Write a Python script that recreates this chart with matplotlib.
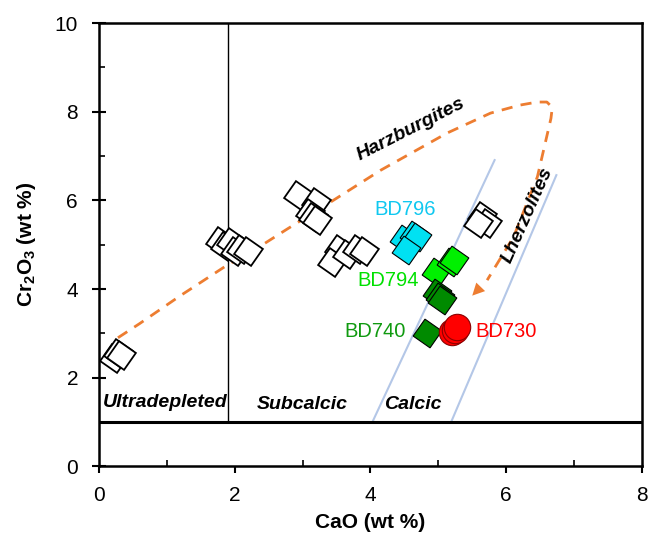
import numpy as np
import matplotlib
matplotlib.use("Agg")
import matplotlib.pyplot as plt

plt.rcParams['font.family'] = ['Liberation Sans', 'DejaVu Sans']
plt.rcParams['mathtext.fontset'] = 'custom'
plt.rcParams['mathtext.rm'] = 'Liberation Sans'
plt.rcParams['mathtext.bf'] = 'Liberation Sans:bold'

# white diamonds (literature data)
lit_cao = [0.22, 0.28, 0.33,
           1.78, 1.85, 1.95, 2.0, 2.1, 2.2,
           2.94, 3.2, 3.11, 3.16, 3.21,
           3.53, 3.43, 3.66, 3.8, 3.9,
           5.65, 5.72, 5.58]
lit_cr = [2.45, 2.55, 2.5,
          5.08, 4.98, 5.05, 4.85, 4.9, 4.85,
          6.12, 5.97, 5.71, 5.63, 5.55,
          4.91, 4.61, 4.8, 4.91, 4.85,
          5.65, 5.5, 5.48]

# samples
bd796_cao = [4.49, 4.64, 4.69, 4.52]
bd796_cr = [5.14, 5.21, 5.18, 4.88]
bd794_cao = [4.96, 5.18, 5.23]
bd794_cr = [4.39, 4.61, 4.65]
bd740_cao = [4.98, 5.03, 5.06, 4.84]
bd740_cr = [3.9, 3.82, 3.75, 3.0]
bd730_cao = [5.2, 5.25, 5.28]
bd730_cr = [3.03, 3.07, 3.14]

# orange trend curve
trend_cao = [0.28, 0.6, 1.2, 1.9, 2.33, 2.77, 3.4, 4.15, 5.13, 5.77, 6.2, 6.46,
             6.6, 6.68, 6.66, 6.46, 6.11, 5.72]
trend_cr = [2.9, 3.22, 3.85, 4.55, 4.92, 5.35, 5.95, 6.68, 7.52, 7.97, 8.15, 8.22,
            8.22, 8.1, 7.85, 6.53, 5.18, 4.2]

# calcic boundaries
calc1_cao = [4.03, 5.83]
calc1_cr = [1.0, 6.91]
calc2_cao = [5.19, 6.74]
calc2_cr = [1.0, 6.57]

orange = '#ED7D31'
blue = '#B4C7E7'

fig = plt.figure(figsize=(6.51, 5.39), dpi=100)
ax = fig.add_axes([0.152, 0.135, 0.834, 0.822])

ax.plot(calc1_cao, calc1_cr, color=blue, lw=1.5, zorder=1)
ax.plot(calc2_cao, calc2_cr, color=blue, lw=1.5, zorder=1)
ax.plot([1.9, 1.9], [1, 10], color='black', lw=1.0, zorder=1)
ax.axhline(1.0, color='black', lw=2.2, zorder=1)

ax.plot(trend_cao, trend_cr, color=orange, lw=2, dashes=(4, 3), zorder=2)
ax.annotate('', xy=(5.5, 3.85), xytext=(5.72, 4.2),
            arrowprops=dict(arrowstyle='-|>', color=orange, lw=0,
                            mutation_scale=22, shrinkA=0, shrinkB=0), zorder=2)

mk = (4, 0, 10)
ms = 21
ax.plot(lit_cao, lit_cr, ls='none', marker=mk, ms=ms, mfc='white', mec='black',
        mew=1.3, zorder=3)
ax.plot(bd796_cao, bd796_cr, ls='none', marker=mk, ms=ms, mfc='#00E1F2', mec='black',
        mew=0.8, zorder=3)
ax.plot(bd794_cao, bd794_cr, ls='none', marker=mk, ms=ms, mfc='#00F000', mec='black',
        mew=0.8, zorder=3)
ax.plot(bd740_cao, bd740_cr, ls='none', marker=mk, ms=ms, mfc='#008A00', mec='black',
        mew=0.8, zorder=3)
ax.plot(bd730_cao, bd730_cr, ls='none', marker='o', ms=19, mfc='#FF0000', mec='#8B0000',
        mew=0.8, zorder=3)

ax.text(4.06, 5.79, 'BD796', color='#10C8F0', fontsize=14.5, va='center', ha='left')
ax.text(4.72, 4.2, 'BD794', color='#00E000', fontsize=14.5, va='center', ha='right')
ax.text(4.52, 3.03, 'BD740', color='#109A10', fontsize=14.5, va='center', ha='right')
ax.text(5.55, 3.05, 'BD730', color='#FF0000', fontsize=14.5, va='center', ha='left')

lab = dict(fontsize=14, fontweight='bold', fontstyle='italic', va='center')
ax.text(0.06, 1.43, 'Ultradepleted', ha='left', **lab)
ax.text(3.0, 1.4, 'Subcalcic', ha='center', **lab)
ax.text(4.62, 1.4, 'Calcic', ha='center', **lab)
ax.text(4.6, 7.6, 'Harzburgites', ha='center', rotation=27, **lab)
ax.text(6.31, 5.67, 'Lherzolites', ha='center', rotation=66, **lab)

ax.set_xlim(0, 8)
ax.set_ylim(0, 10)
ax.set_xticks(np.arange(0, 9, 2))
ax.set_yticks(np.arange(0, 11, 2))
ax.set_xticks(np.arange(1, 8, 2), minor=True)
ax.set_yticks(np.arange(1, 10, 2), minor=True)
ax.tick_params(axis='x', which='major', direction='out', length=5, width=1.5,
               labelsize=15, pad=9.5)
ax.tick_params(axis='y', which='major', direction='inout', length=10, width=1.5,
               labelsize=15, pad=10)
ax.tick_params(which='minor', direction='in', length=4, width=1.2)
for s in ax.spines.values():
    s.set_linewidth(1.8)

ax.set_xlabel('CaO (wt %)', fontsize=15, fontweight='bold', va='center')
ax.set_ylabel(r'$\mathbf{Cr_2O_3}$ (wt %)', fontsize=15, fontweight='bold', va='center')
ax.xaxis.set_label_coords(0.5, -0.126)
ax.yaxis.set_label_coords(-0.133, 0.5)

fig.savefig('out.png', dpi=100)
